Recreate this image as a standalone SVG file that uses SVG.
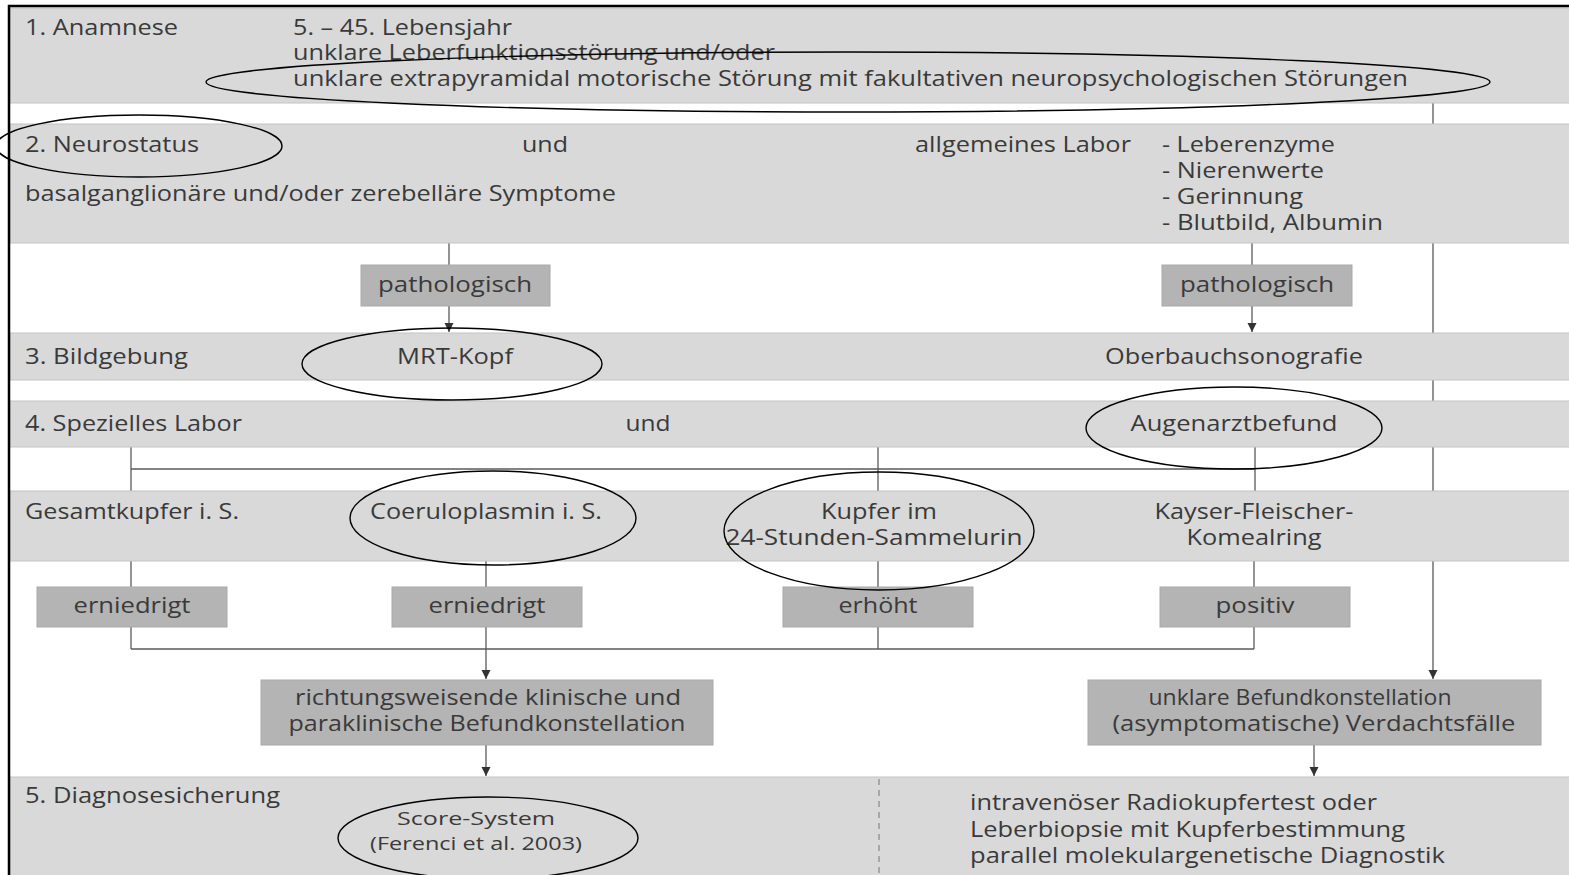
<svg xmlns="http://www.w3.org/2000/svg" width="1569" height="875" viewBox="0 0 1569 875">
<style>
text{font-family:"Open Sans","DejaVu Sans",sans-serif;font-size:21px;fill:#3a3a3a}
.m{text-anchor:middle}
.s{font-size:19px}
.band{fill:#d9d9d9;stroke:#c4c4c4;stroke-width:1}
.box{fill:#b4b4b4;stroke:#a9a9a9;stroke-width:1}
.ring{fill:none;stroke:#000;stroke-width:1.4}
.ln{fill:none;stroke:#5a5a5a;stroke-width:1.3}
</style>
<defs>
<marker id="ad" markerUnits="userSpaceOnUse" markerWidth="10" markerHeight="10" refX="5" refY="10" viewBox="0 0 10 10" orient="0">
<path d="M0.5,1 L9.5,1 L5,10 Z" fill="#333"/>
</marker>
</defs>
<rect x="0" y="0" width="1569" height="875" fill="#fff"/>

<g id="connectors">
<line class="ln" x1="1433" y1="103" x2="1433" y2="679" marker-end="url(#ad)"/>
<line class="ln" x1="449" y1="243" x2="449" y2="265"/>
<line class="ln" x1="449" y1="306" x2="449" y2="332" marker-end="url(#ad)"/>
<line class="ln" x1="1252" y1="243" x2="1252" y2="265"/>
<line class="ln" x1="1252" y1="306" x2="1252" y2="332" marker-end="url(#ad)"/>
<line class="ln" x1="131" y1="447" x2="131" y2="491"/>
<line class="ln" x1="878" y1="447" x2="878" y2="491"/>
<line class="ln" x1="1255" y1="447" x2="1255" y2="491"/>
<line class="ln" x1="131" y1="469" x2="1255" y2="469"/>
<line class="ln" x1="131" y1="561" x2="131" y2="649"/>
<line class="ln" x1="486" y1="561" x2="486" y2="649"/>
<line class="ln" x1="878" y1="561" x2="878" y2="649"/>
<line class="ln" x1="1254" y1="561" x2="1254" y2="649"/>
<line class="ln" x1="131" y1="649" x2="1254" y2="649"/>
<line class="ln" x1="486" y1="649" x2="486" y2="679" marker-end="url(#ad)"/>
<line class="ln" x1="486" y1="745" x2="486" y2="776" marker-end="url(#ad)"/>
<line class="ln" x1="1314" y1="745" x2="1314" y2="776" marker-end="url(#ad)"/>
</g>

<g id="band1">
<rect class="band" x="10" y="8" width="1570" height="95"/>
<text x="25" y="35" textLength="153" lengthAdjust="spacingAndGlyphs">1. Anamnese</text>
<text x="293" y="35" textLength="219" lengthAdjust="spacingAndGlyphs">5. – 45. Lebensjahr</text>
<text x="293" y="60" textLength="482" lengthAdjust="spacingAndGlyphs">unklare Leberfunktionsstörung und/oder</text>
<text x="293" y="86" textLength="1115" lengthAdjust="spacingAndGlyphs">unklare extrapyramidal motorische Störung mit fakultativen neuropsychologischen Störungen</text>
</g>

<g id="band2">
<rect class="band" x="10" y="124" width="1570" height="119"/>
<text x="25" y="152" textLength="174" lengthAdjust="spacingAndGlyphs">2. Neurostatus</text>
<text x="545" y="152" class="m" textLength="46" lengthAdjust="spacingAndGlyphs">und</text>
<text x="915" y="152" textLength="216" lengthAdjust="spacingAndGlyphs">allgemeines Labor</text>
<text x="1162" y="152" textLength="173" lengthAdjust="spacingAndGlyphs">- Leberenzyme</text>
<text x="1162" y="178" textLength="162" lengthAdjust="spacingAndGlyphs">- Nierenwerte</text>
<text x="1162" y="204" textLength="141" lengthAdjust="spacingAndGlyphs">- Gerinnung</text>
<text x="1162" y="230" textLength="221" lengthAdjust="spacingAndGlyphs">- Blutbild, Albumin</text>
<text x="25" y="201" textLength="591" lengthAdjust="spacingAndGlyphs">basalganglionäre und/oder zerebelläre Symptome</text>
</g>

<g id="patho1">
<rect class="box" x="361" y="265" width="189" height="41"/>
<text x="455" y="292" class="m" textLength="154" lengthAdjust="spacingAndGlyphs">pathologisch</text>
</g>
<g id="patho2">
<rect class="box" x="1162" y="265" width="190" height="41"/>
<text x="1257" y="292" class="m" textLength="154" lengthAdjust="spacingAndGlyphs">pathologisch</text>
</g>

<g id="band3">
<rect class="band" x="10" y="333" width="1570" height="47"/>
<text x="25" y="364" textLength="163" lengthAdjust="spacingAndGlyphs">3. Bildgebung</text>
<text x="455" y="364" class="m" textLength="116" lengthAdjust="spacingAndGlyphs">MRT-Kopf</text>
<text x="1234" y="364" class="m" textLength="258" lengthAdjust="spacingAndGlyphs">Oberbauchsonografie</text>
</g>

<g id="band4">
<rect class="band" x="10" y="401" width="1570" height="46"/>
<text x="25" y="431" textLength="217" lengthAdjust="spacingAndGlyphs">4. Spezielles Labor</text>
<text x="648" y="431" class="m" textLength="45" lengthAdjust="spacingAndGlyphs">und</text>
<text x="1234" y="431" class="m" textLength="207" lengthAdjust="spacingAndGlyphs">Augenarztbefund</text>
</g>

<g id="bandLab">
<rect class="band" x="10" y="491" width="1570" height="70"/>
<text x="25" y="519" textLength="214" lengthAdjust="spacingAndGlyphs">Gesamtkupfer i. S.</text>
<text x="486" y="519" class="m" textLength="232" lengthAdjust="spacingAndGlyphs">Coeruloplasmin i. S.</text>
<text x="879" y="519" class="m" textLength="116" lengthAdjust="spacingAndGlyphs">Kupfer im</text>
<text x="874" y="545" class="m" textLength="297" lengthAdjust="spacingAndGlyphs">24-Stunden-Sammelurin</text>
<text x="1254" y="519" class="m" textLength="199" lengthAdjust="spacingAndGlyphs">Kayser-Fleischer-</text>
<text x="1254" y="545" class="m" textLength="135" lengthAdjust="spacingAndGlyphs">Komealring</text>
</g>

<g id="res1">
<rect class="box" x="37" y="587" width="190" height="40"/>
<text x="132" y="613" class="m" textLength="117" lengthAdjust="spacingAndGlyphs">erniedrigt</text>
</g>
<g id="res2">
<rect class="box" x="392" y="587" width="190" height="40"/>
<text x="487" y="613" class="m" textLength="117" lengthAdjust="spacingAndGlyphs">erniedrigt</text>
</g>
<g id="res3">
<rect class="box" x="783" y="587" width="190" height="40"/>
<text x="878" y="613" class="m" textLength="79" lengthAdjust="spacingAndGlyphs">erhöht</text>
</g>
<g id="res4">
<rect class="box" x="1160" y="587" width="190" height="40"/>
<text x="1255" y="613" class="m" textLength="79" lengthAdjust="spacingAndGlyphs">positiv</text>
</g>

<g id="konst1">
<rect class="box" x="261" y="680" width="452" height="65"/>
<text x="488" y="705" class="m" textLength="386" lengthAdjust="spacingAndGlyphs">richtungsweisende klinische und</text>
<text x="487" y="731" class="m" textLength="397" lengthAdjust="spacingAndGlyphs">paraklinische Befundkonstellation</text>
</g>
<g id="konst2">
<rect class="box" x="1088" y="680" width="453" height="65"/>
<text x="1300" y="705" class="m" textLength="303" lengthAdjust="spacingAndGlyphs">unklare Befundkonstellation</text>
<text x="1314" y="731" class="m" textLength="403" lengthAdjust="spacingAndGlyphs">(asymptomatische) Verdachtsfälle</text>
</g>

<g id="band5">
<rect class="band" x="10" y="777" width="1570" height="110"/>
<line x1="879" y1="779" x2="879" y2="875" stroke="#777" stroke-width="1" stroke-dasharray="6,5"/>
<text x="25" y="803" textLength="255" lengthAdjust="spacingAndGlyphs">5. Diagnosesicherung</text>
<text x="476" y="825" class="m s" textLength="158" lengthAdjust="spacingAndGlyphs">Score-System</text>
<text x="476" y="850" class="m s" textLength="212" lengthAdjust="spacingAndGlyphs">(Ferenci et al. 2003)</text>
<text x="970" y="810" textLength="407" lengthAdjust="spacingAndGlyphs">intravenöser Radiokupfertest oder</text>
<text x="970" y="837" textLength="435" lengthAdjust="spacingAndGlyphs">Leberbiopsie mit Kupferbestimmung</text>
<text x="970" y="863" textLength="475" lengthAdjust="spacingAndGlyphs">parallel molekulargenetische Diagnostik</text>
</g>

<g id="frame">
<path d="M9,875 V6 H1569" fill="none" stroke="#000" stroke-width="2.5"/>
</g>

<g id="highlights">
<ellipse class="ring" cx="848" cy="82" rx="642" ry="30"/>
<ellipse class="ring" cx="139" cy="146" rx="143" ry="31"/>
<ellipse class="ring" cx="452" cy="364" rx="150" ry="36"/>
<ellipse class="ring" cx="1234" cy="428" rx="148" ry="41"/>
<ellipse class="ring" cx="493" cy="518" rx="143" ry="47"/>
<ellipse class="ring" cx="879" cy="531" rx="155" ry="59"/>
<ellipse class="ring" cx="488" cy="838" rx="150" ry="41"/>
</g>
</svg>
